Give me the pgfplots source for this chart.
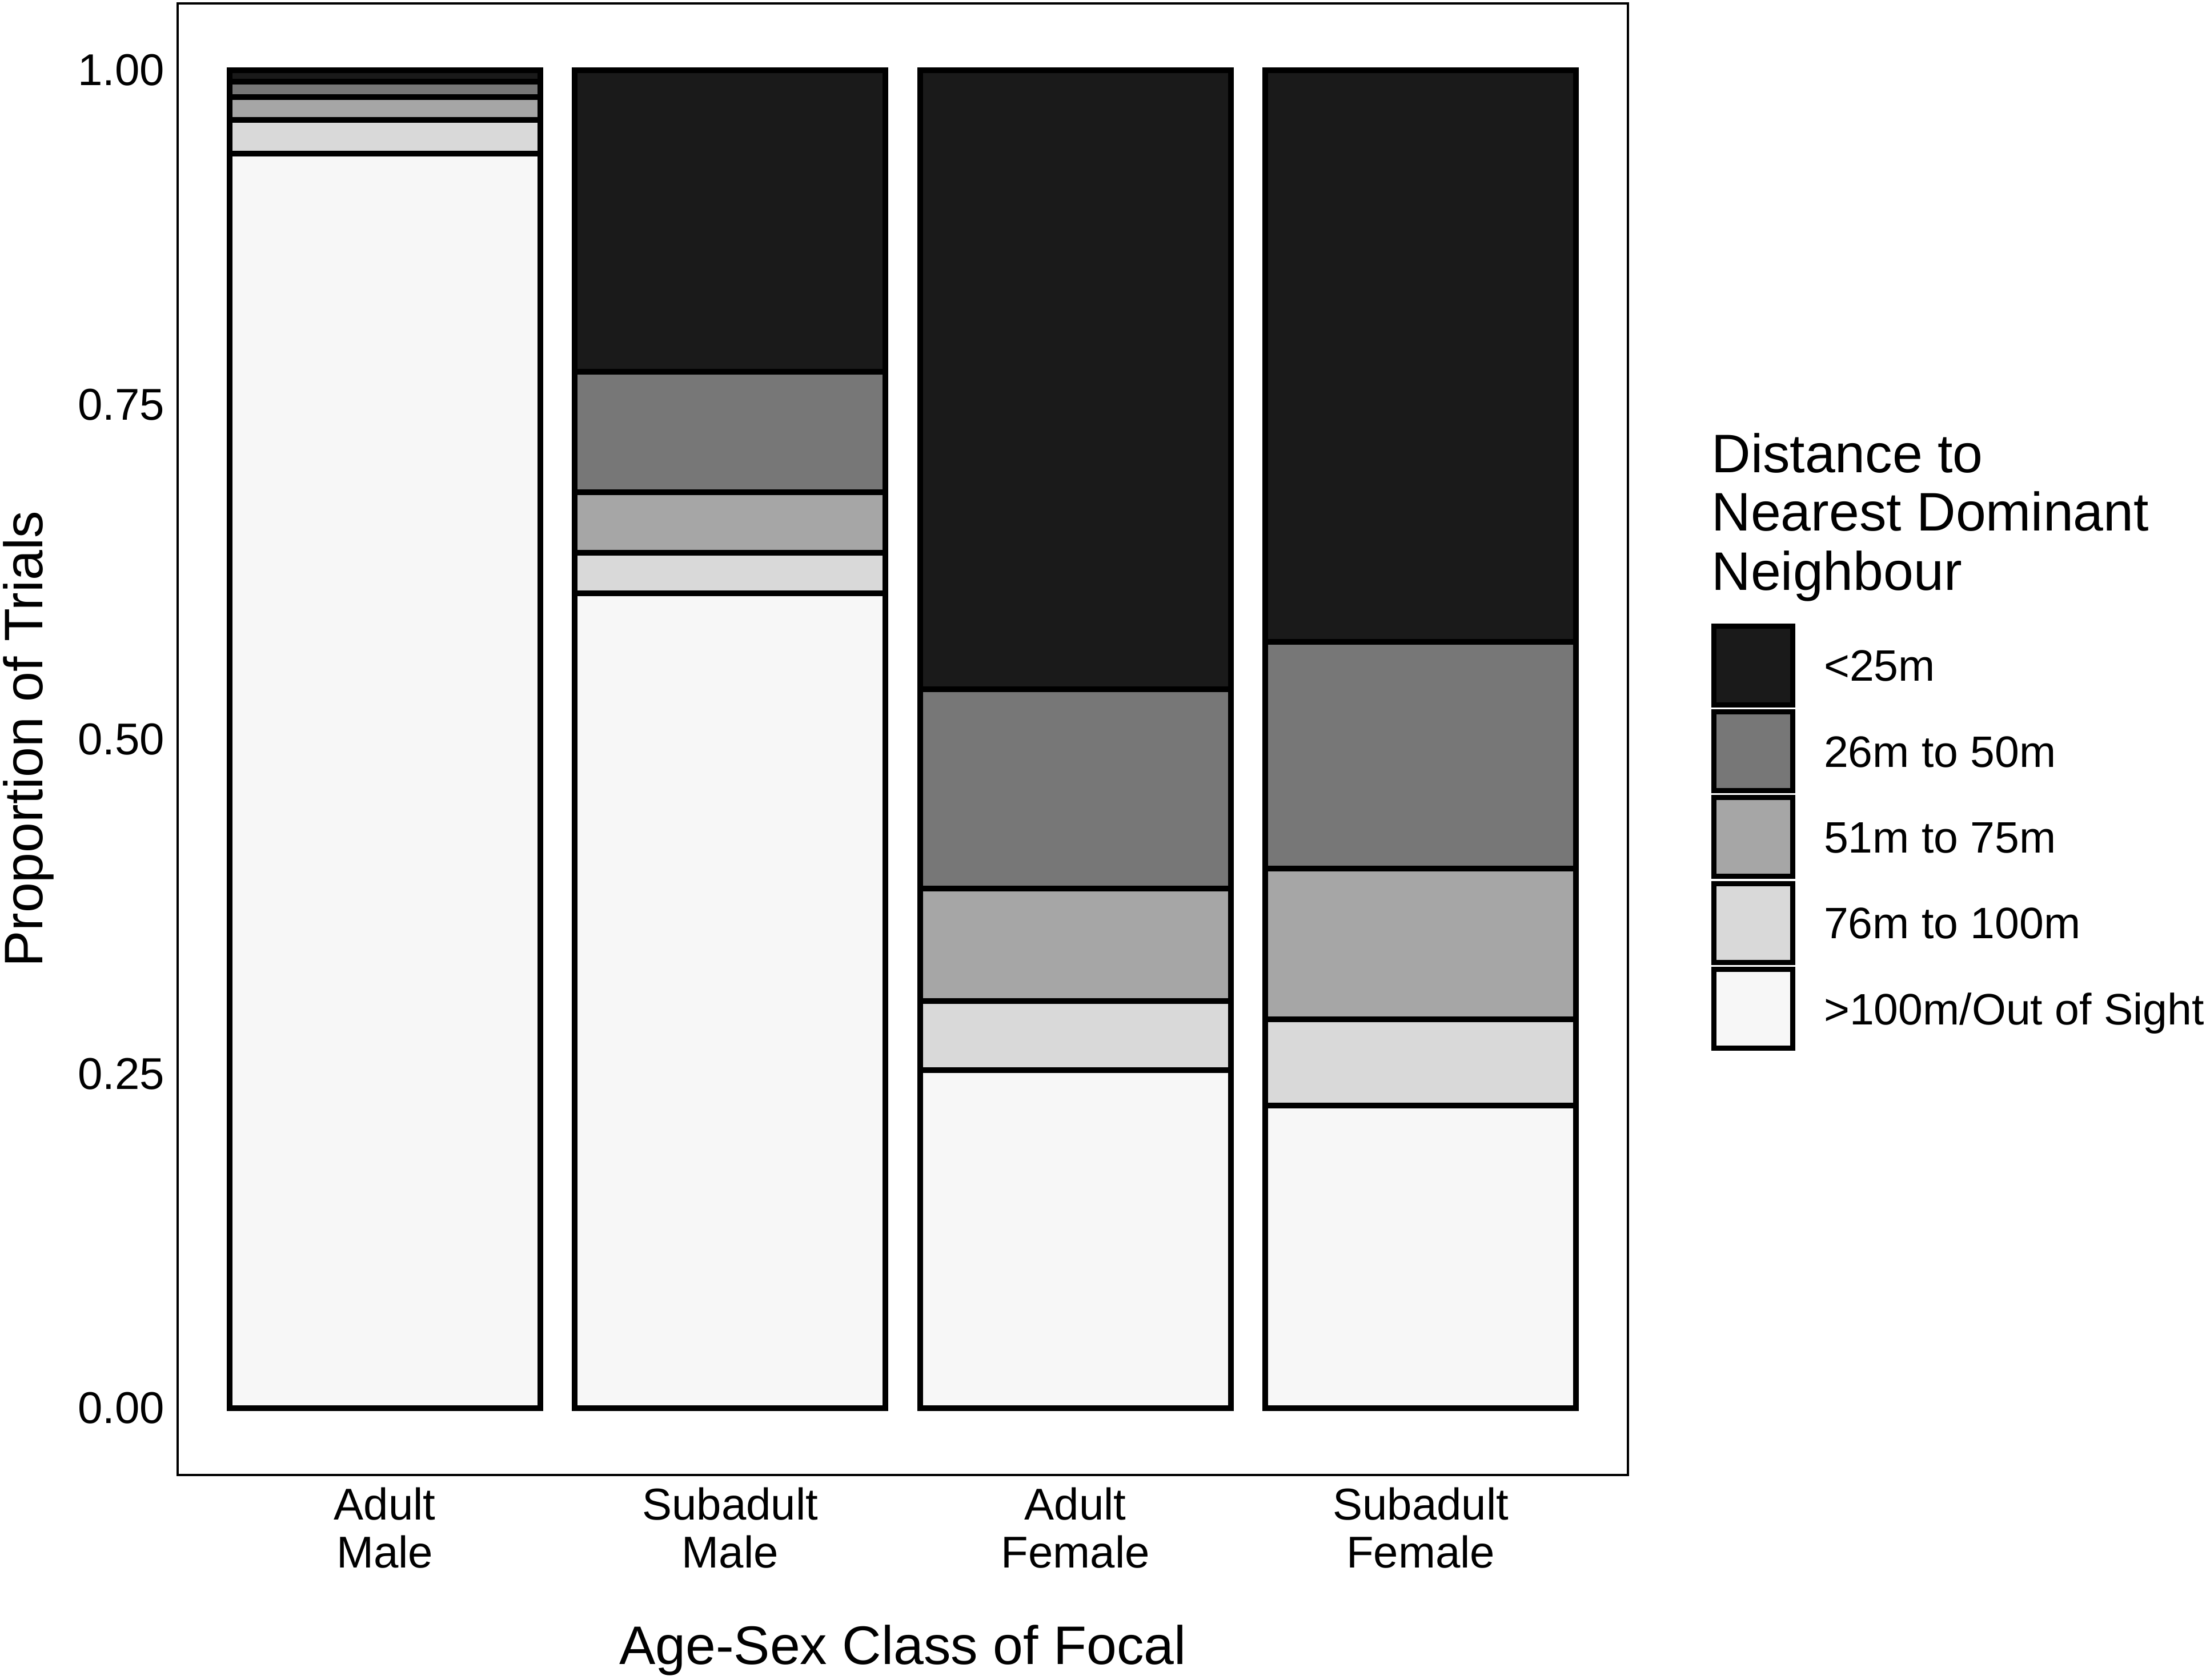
\documentclass[border=0pt]{standalone}
\usepackage{fontspec}
\setmainfont{Liberation Sans}
\usepackage{pgfplots}
\pgfplotsset{compat=1.18}
\definecolor{cA}{HTML}{1A1A1A}
\definecolor{cB}{HTML}{777777}
\definecolor{cC}{HTML}{A6A6A6}
\definecolor{cD}{HTML}{D9D9D9}
\definecolor{cE}{HTML}{F7F7F7}
\begin{document}
\begin{tikzpicture}
\useasboundingbox (-31.1pt,-35.9pt) rectangle (355.1pt,258.3pt);
\begin{axis}[
  at={(0pt,0pt)}, anchor=south west,
  scale only axis, width=253.9pt, height=257.7pt,
  ybar stacked, bar width=0.9,
  xmin=0.4, xmax=4.6, ymin=-0.05, ymax=1.05,
  xtick={1,2,3,4},
  xticklabels={{Adult\\Male},{Subadult\\Male},{Adult\\Female},{Subadult\\Female}},
  ytick={0,0.25,0.5,0.75,1},
  yticklabels={0.00,0.25,0.50,0.75,1.00},
  tick style={draw=none},
  major tick length=0pt,
  axis line style={line width=0.45pt, black},
  xticklabel style={anchor=north, inner sep=0pt, yshift=-2pt, align=center, font=\fontsize{7.8}{8.4}\selectfont},
  yticklabel style={anchor=east, inner sep=0pt, xshift=-2.1pt, font=\fontsize{7.8}{9}\selectfont},
  xlabel={Age-Sex Class of Focal},
  ylabel={Proportion of Trials},
  every axis x label/.style={at={(axis description cs:0.5,-0.12883)}, anchor=base, inner sep=0pt, font=\fontsize{9.5}{11}\selectfont},
  every axis y label/.style={at={(axis description cs:-0.09295,0.5)}, rotate=90, anchor=base, inner sep=0pt, font=\fontsize{9.5}{11}\selectfont},
  clip=false,
  legend image code/.code={\draw[#1, line width=0.9pt] (0pt,-6.9pt) rectangle (13.8pt,6.9pt);},
  reverse legend,
  legend style={at={(1.0577,0.5787)}, anchor=north west, draw=none, fill=none, inner sep=0pt, outer sep=0pt, row sep=0.34pt, column sep=4.97pt, cells={anchor=west}, nodes={inner sep=0pt, anchor=west, text height=5.5pt, text depth=0pt, font=\fontsize{7.7}{9}\selectfont}},
]
\addplot[fill=cE, draw=black, line width=1pt] coordinates {(1,0.9377) (2,0.6091) (3,0.2525) (4,0.2260)};
\addlegendentry{>100m/Out of Sight}
\addplot[fill=cD, draw=black, line width=1pt] coordinates {(1,0.0253) (2,0.0302) (3,0.0516) (4,0.0645)};
\addlegendentry{76m to 100m}
\addplot[fill=cC, draw=black, line width=1pt] coordinates {(1,0.0171) (2,0.0452) (3,0.0841) (4,0.1129)};
\addlegendentry{51m to 75m}
\addplot[fill=cB, draw=black, line width=1pt] coordinates {(1,0.0116) (2,0.0903) (3,0.1492) (4,0.1694)};
\addlegendentry{26m to 50m}
\addplot[fill=cA, draw=black, line width=1pt] coordinates {(1,0.0083) (2,0.2252) (3,0.4626) (4,0.4272)};
\addlegendentry{<25m}
\end{axis}
\node[anchor=base west, inner sep=0pt, font=\fontsize{9.5}{11}\selectfont] at (268.35pt,175.57pt) {Distance to};
\node[anchor=base west, inner sep=0pt, font=\fontsize{9.5}{11}\selectfont] at (268.35pt,165.3pt) {Nearest Dominant};
\node[anchor=base west, inner sep=0pt, font=\fontsize{9.5}{11}\selectfont] at (268.35pt,154.97pt) {Neighbour};
\end{tikzpicture}
\end{document}
